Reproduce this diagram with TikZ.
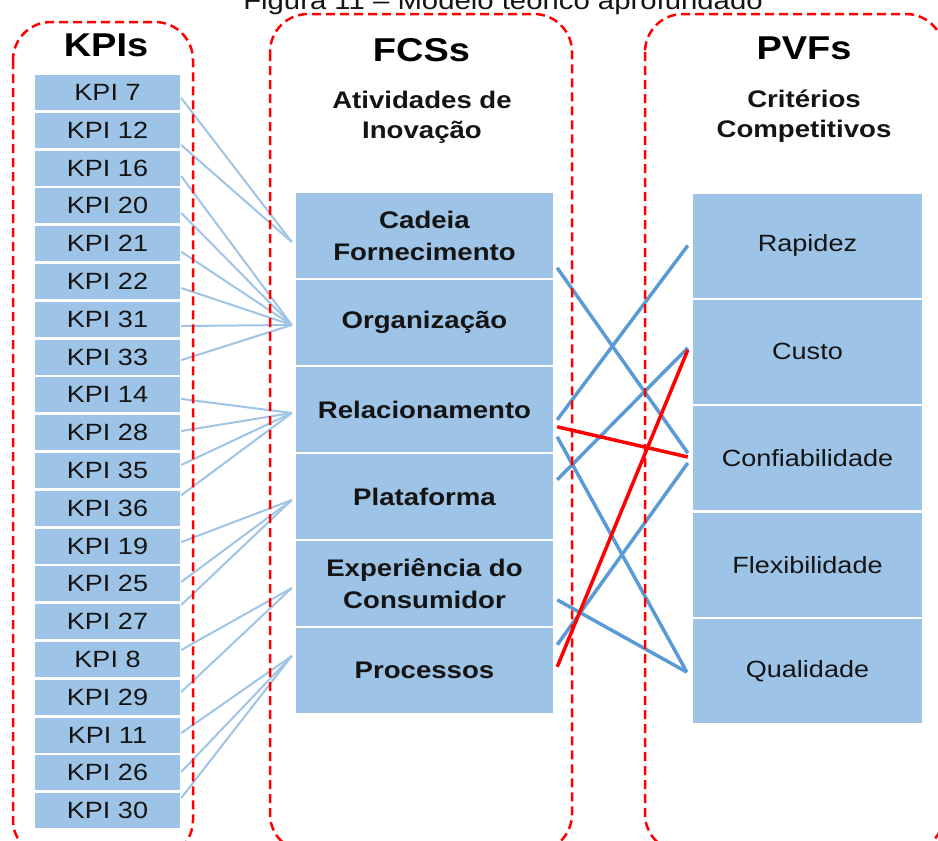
\documentclass[tikz,border=0pt]{standalone}
\usepackage{fontspec}
\setmainfont[FakeStretch=1.15]{Liberation Sans}
\usetikzlibrary{calc}

\definecolor{boxblue}{RGB}{157,195,230}
\definecolor{linkblue}{RGB}{91,155,213}
\definecolor{thinblue}{RGB}{160,196,229}
\definecolor{ink}{RGB}{20,20,20}

\tikzset{
  kpibox/.style={fill=boxblue, minimum width=145pt, minimum height=35pt, inner sep=0pt,
    text=ink, font=\fontsize{23.5}{27}\selectfont},
  fcsbox/.style={fill=boxblue, minimum width=257pt, minimum height=85pt, inner sep=0pt,
    text=ink, align=center, font=\fontsize{24}{32}\selectfont\bfseries},
  pvfbox/.style={fill=boxblue, minimum width=229pt, minimum height=104pt, inner sep=0pt,
    text=ink, font=\fontsize{23.5}{27}\selectfont},
  groupframe/.style={draw=red, line width=2.5pt, dash pattern=on 9pt off 5pt, rounded corners=38pt},
  heading/.style={font=\fontsize{33}{36}\selectfont\bfseries, text=black, anchor=base},
  subheading/.style={font=\fontsize{24}{30}\selectfont\bfseries, align=center, text=ink},
  kpilink/.style={draw=thinblue, line width=2pt},
  bluelink/.style={draw=linkblue, line width=3.5pt},
  redlink/.style={draw=red, line width=3.5pt},
}

\begin{document}
\begin{tikzpicture}[x=1pt, y=-1pt]
\useasboundingbox (0,0) rectangle (938,841);
\clip (0,0) rectangle (938,841);

% caption
\node[anchor=base, font=\fontsize{25.5}{30}\selectfont, text=ink] (caption) at (503,9)
  {Figura 11 -- Modelo teórico aprofundado};

% column headings
\node[heading] (hkpi) at (106,56) {KPIs};
\node[heading] (hfcs) at (421.5,61) {FCSs};
\node[heading] (hpvf) at (804,59) {PVFs};
\node[subheading] (sfcs) at (422,117) {Atividades de\\Inovação};
\node[subheading] (spvf) at (804,116) {Critérios\\Competitivos};

% KPI column
\foreach \lab [count=\i from 0] in {7,12,16,20,21,22,31,33,14,28,35,36,19,25,27,8,29,11,26,30}
  \node[kpibox] (k\lab) at (107.5,{92.5+37.8*\i}) {KPI \lab};

% FCS column
\node[fcsbox] (f1) at (424.5,235.5) {Cadeia\\Fornecimento};
\node[fcsbox] (f2) at (424.5,322.5) {Organização};
\node[fcsbox] (f3) at (424.5,409.5) {Relacionamento};
\node[fcsbox] (f4) at (424.5,496.5) {Plataforma};
\node[fcsbox] (f5) at (424.5,583.5) {Experiência do\\Consumidor};
\node[fcsbox] (f6) at (424.5,670.5) {Processos};

% PVF column
\node[pvfbox] (p1) at (807.5,245.5) {Rapidez};
\node[pvfbox] (p2) at (807.5,351.9) {Custo};
\node[pvfbox] (p3) at (807.5,458.3) {Confiabilidade};
\node[pvfbox] (p4) at (807.5,564.7) {Flexibilidade};
\node[pvfbox] (p5) at (807.5,671.1) {Qualidade};

% meeting points on the left of the FCS boxes
\coordinate (L1) at ($(f1.west)+(-4,6.5)$);
\coordinate (L2) at ($(f2.west)+(-4,2.5)$);
\coordinate (L3) at ($(f3.west)+(-4,3.5)$);
\coordinate (L4) at ($(f4.west)+(-4,3.5)$);
\coordinate (L5) at ($(f5.west)+(-4,4.5)$);
\coordinate (L6) at ($(f6.west)+(-4,-14.5)$);

% KPI -> FCS links
\foreach \lab/\dy/\tgt in {7/5.5/L1, 12/14.7/L1,
    16/8/L2, 20/7/L2, 21/8/L2, 22/6.5/L2, 31/6.7/L2, 33/3/L2,
    14/4/L3, 28/-1.7/L3, 35/-5.5/L3, 36/-13/L3,
    19/-4/L4, 25/-2/L4, 27/-16.7/L4,
    8/-9.5/L5, 29/-5.3/L5,
    11/-2/L6, 26/-1/L6, 30/-12.7/L6}
  \draw[kpilink] ($(k\lab.east)+(1,\dy)$) -- (\tgt);

% FCS -> PVF links
\draw[bluelink] ($(f1.north east)+(4,75)$) -- ($(p3.west)+(-5,-5.3)$);
\draw[bluelink] ($(f3.north east)+(4,53)$) -- ($(p1.west)+(-5,0)$);
\draw[bluelink] ($(f4.north east)+(4,26)$) -- ($(p2.west)+(-5,-4)$);
\draw[bluelink] ($(f3.north east)+(4,70)$) -- ($(p5.west)+(-6,1)$);
\draw[bluelink] ($(f6.north east)+(4,17)$) -- ($(p3.west)+(-5,4.7)$);
\draw[bluelink] ($(f5.north east)+(4,59)$) -- ($(p5.west)+(-6,1)$);
\draw[redlink] ($(f3.north east)+(4,60)$) -- ($(p3.west)+(-5,-1.3)$);
\draw[redlink] ($(f6.north east)+(4,39)$) -- ($(p2.west)+(-5,-2)$);

% dashed group frames
\draw[groupframe] (13,22) rectangle (193,858);
\draw[groupframe] (270,14) rectangle (572,852);
\draw[groupframe] (645,14) rectangle (944,852);
\end{tikzpicture}
\end{document}
